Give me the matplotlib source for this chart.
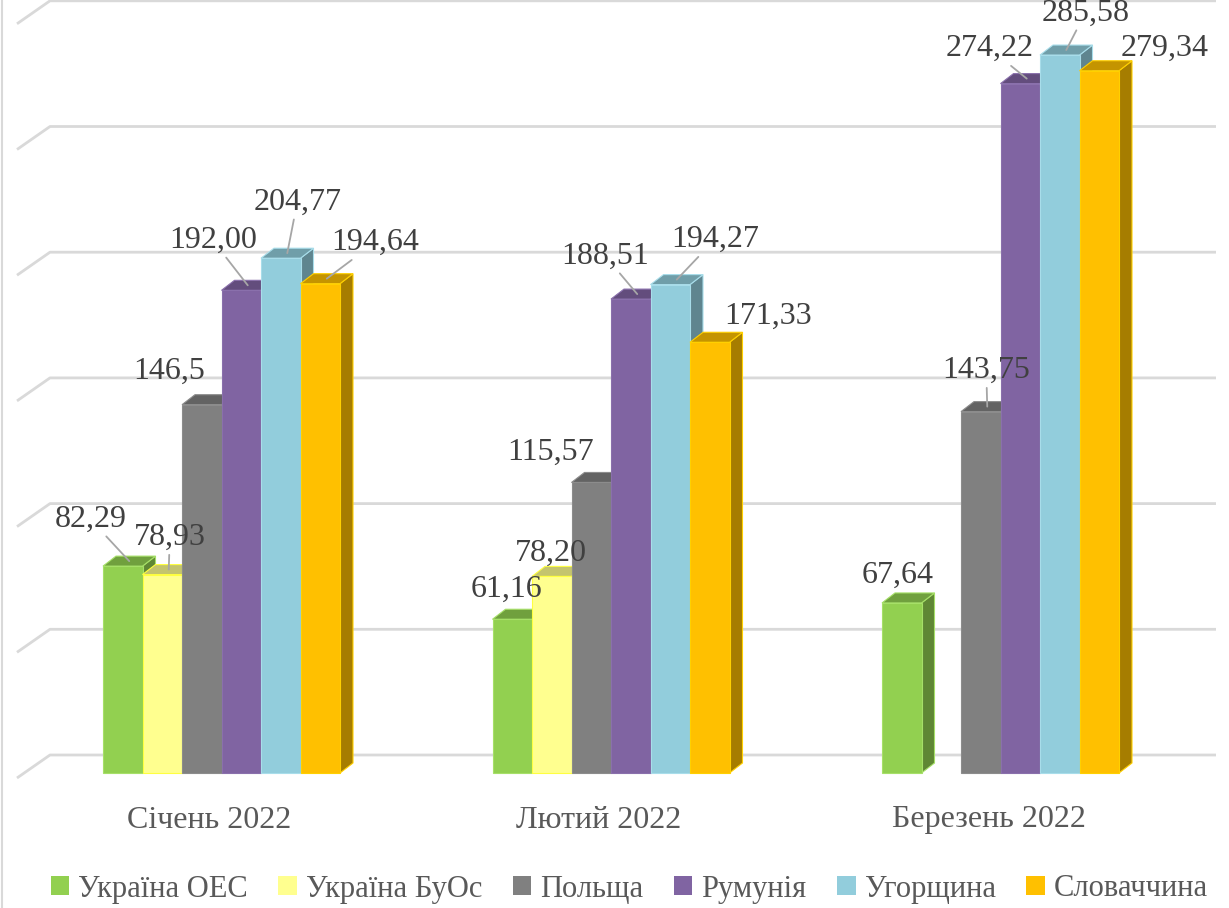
import matplotlib
matplotlib.use('Agg')
import matplotlib.pyplot as plt
import numpy as np
from matplotlib.patches import Polygon, Rectangle
from matplotlib.colors import to_rgb

plt.rcParams['font.family'] = ['Liberation Serif', 'DejaVu Serif']

# дані (як у таблиці Excel, кома — десятковий роздільник)
months = ['Січень 2022', 'Лютий 2022', 'Березень 2022']
series_names = ['Україна ОЕС', 'Україна БуОс', 'Польща', 'Румунія', 'Угорщина', 'Словаччина']
ukraine_oes = ['82,29', '61,16', '67,64']
ukraine_buos = ['78,93', '78,20', '']
poland = ['146,5', '115,57', '143,75']
romania = ['192,00', '188,51', '274,22']
hungary = ['204,77', '194,27', '285,58']
slovakia = ['194,64', '171,33', '279,34']
all_series = [ukraine_oes, ukraine_buos, poland, romania, hungary, slovakia]

colors = ['#92D050', '#FFFF8F', '#808080', '#8064A2', '#92CDDC', '#FFC000']
edges = ['#A6E068', '#FFFF40', '#8C8C8C', '#8A70AC', '#A8DDEA', '#FFD000']

# зміщення підписів (пікселі) і чи є виносна лінія
label_pos = [
    [(-39, 42, True), (-12, 25, False), (-11, 23, False)],
    [(1, 32, True), (-7, 18, False), None],
    [(-39, 28, False), (-47, 25, False), (-1, 36, True)],
    [(-35, 45, True), (-32, 38, True), (-37, 30, True)],
    [(10, 51, True), (38, 40, True), (19, 37, True)],
    [(48, 36, True), (52, 21, False), (59, 17, False)],
]

def shade(c, f):
    r, g, b = to_rgb(c)
    return (r * f, g * f, b * f)

fig = plt.figure(figsize=(12.29, 9.08), dpi=100)
ax = fig.add_axes([0, 0, 1, 1])
ax.axis('off')

# масштаб: 1 категорія = 389.5 px, 1 одиниця = 2.514 px
ax.set_xlim(-221.5 / 389.5, (1229 - 221.5) / 389.5)
ax.set_ylim(-(908 - 773) / 2.514, 773 / 2.514)

w = 39.5 / 389.5
dx = 13 / 389.5
dy = 10 / 2.514
back_off = 18 / 2.514
front_off = -5 / 2.514

# сітка на задній стінці
for g in range(0, 301, 50):
    ax.plot([(17 - 221.5) / 389.5, (50 - 221.5) / 389.5, (1216 - 221.5) / 389.5],
            [g + front_off, g + back_off, g + back_off],
            color='#D9D9D9', lw=2, zorder=1, solid_capstyle='butt')

z = 2.0
for i in range(len(months)):
    for k, ser in enumerate(all_series):
        s = ser[i]
        if not s:
            continue
        v = float(s.replace(',', '.'))
        x0 = i + (k - 3) * w
        c = colors[k]
        side = Polygon([(x0 + w, 0), (x0 + w + dx, dy), (x0 + w + dx, v + dy), (x0 + w, v)],
                       closed=True, fc=shade(c, 0.65), ec=edges[k], lw=0.8, zorder=z)
        top = Polygon([(x0, v), (x0 + dx, v + dy), (x0 + w + dx, v + dy), (x0 + w, v)],
                      closed=True, fc=shade(c, 0.77), ec=edges[k], lw=0.8, zorder=z)
        front = Rectangle((x0, 0), w, v, fc=c, ec=edges[k], lw=0.8, zorder=z)
        for p in (side, top, front):
            ax.add_patch(p)
        z += 0.01

        ox, oy, leader = label_pos[k][i]
        ap = None
        if leader:
            ap = dict(arrowstyle='-', color='#A6A6A6', lw=1.3, shrinkA=0, shrinkB=0)
        ax.annotate(s, xy=(x0 + w / 2 + dx / 2, v + dy / 2), xytext=(ox, oy),
                    textcoords='offset pixels', ha='center', va='center',
                    fontsize=23, color='#404040', arrowprops=ap, zorder=10)

for i, m in enumerate(months):
    ax.annotate(m, xy=(i, 0), xytext=(-12, -47), textcoords='offset pixels',
                ha='center', va='center', fontsize=23, color='#595959')

# рамка зліва
fig.add_artist(plt.Line2D([0.002, 0.002], [0, 1], color='#D9D9D9', lw=1.5))

handles = [Rectangle((0, 0), 1, 1, fc=c) for c in colors]
fig.legend(handles, series_names, loc='center', bbox_to_anchor=(0.512, 19 / 908),
           ncol=6, frameon=False, handlelength=0.6, handleheight=0.6,
           prop={'family': ['Liberation Serif', 'DejaVu Serif'], 'size': 22},
           handletextpad=0.3, columnspacing=1.0, labelcolor='#595959')

fig.savefig('out.png', dpi=100)
